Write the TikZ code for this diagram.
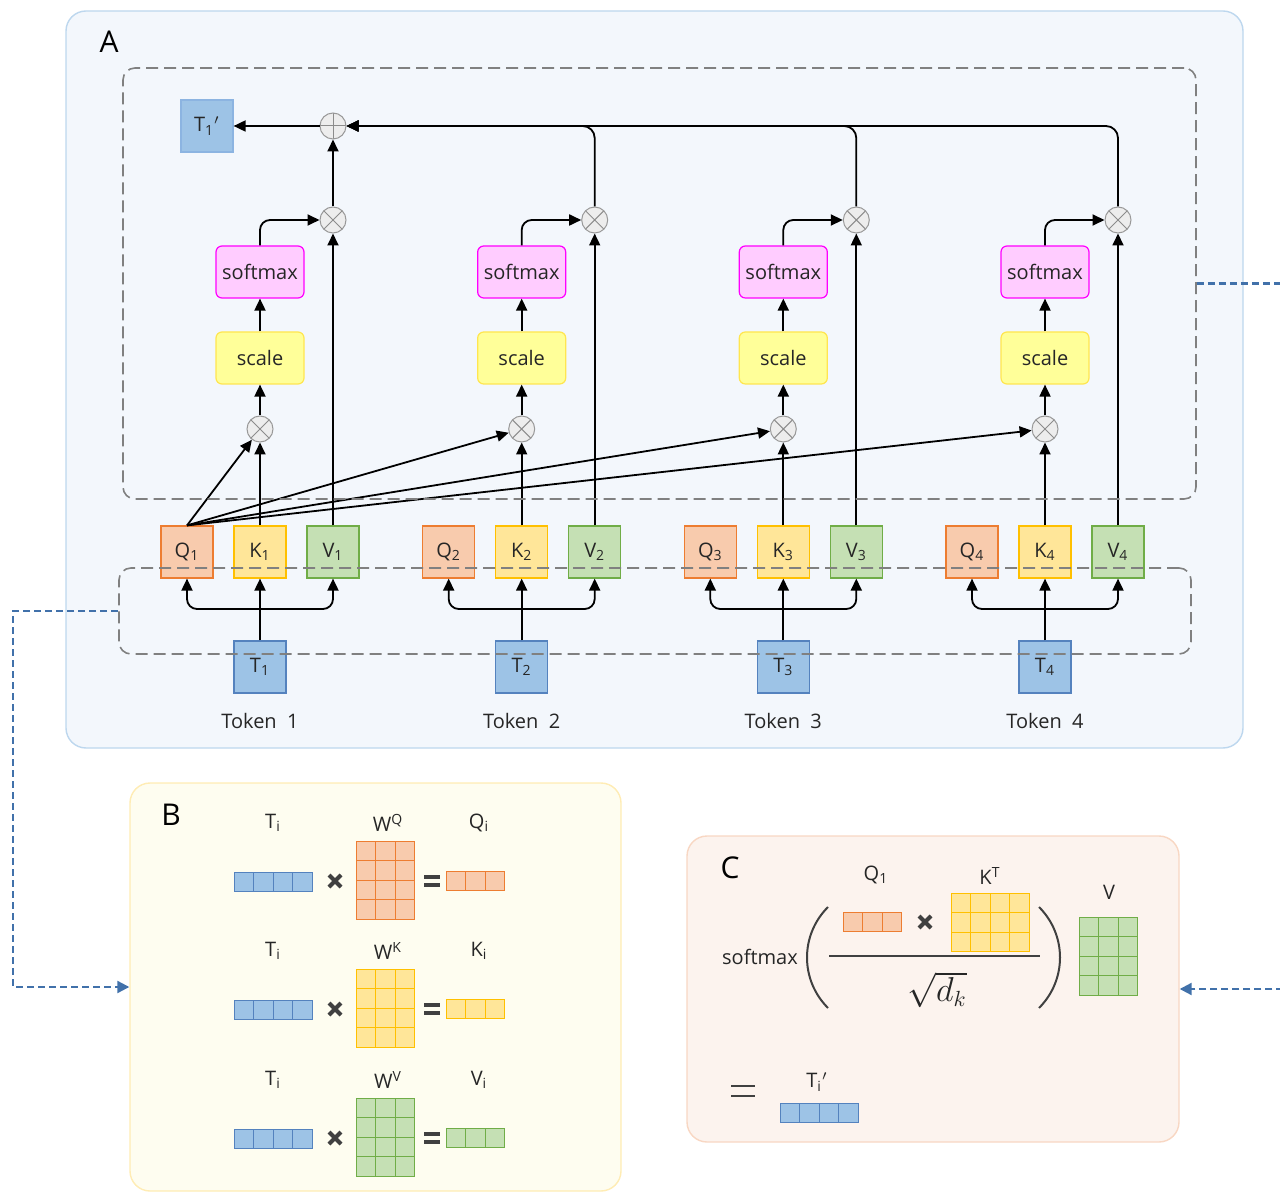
\documentclass[tikz,border=0pt]{standalone}
\usepackage{fontspec}
\setmainfont{Open Sans}
\usetikzlibrary{arrows.meta}

\definecolor{qline}{RGB}{237,125,49}
\definecolor{qfill}{RGB}{248,203,173}
\definecolor{kline}{RGB}{255,192,0}
\definecolor{kfill}{RGB}{255,230,153}
\definecolor{vline}{RGB}{112,173,71}
\definecolor{vfill}{RGB}{197,224,180}
\definecolor{tline}{RGB}{84,130,190}
\definecolor{tfill}{RGB}{157,195,230}
\definecolor{linkblue}{RGB}{65,113,170}

% grid of cells: x, y (top left), columns, rows, style
\newcommand{\cellgrid}[5]{%
  \foreach \cc in {1,...,#3}{\foreach \rr in {1,...,#4}{
    \draw[#5] ({#1+(\cc-1)*19.5},{#2+(\rr-1)*19.5}) rectangle ++(19.5,19.5);}}}

\begin{document}
\begin{tikzpicture}
  [x=0.5pt,y=-0.5pt,font=\fontsize{10}{12}\selectfont,text=black!85,
   box/.style={draw,minimum size=26pt,inner sep=0pt,line width=0.6pt},
   qbox/.style={box,draw=qline,fill=qfill},
   kbox/.style={box,draw=kline,fill=kfill},
   vbox/.style={box,draw=vline,fill=vfill},
   tbox/.style={box,draw=tline,fill=tfill},
   scalebox/.style={box,rounded corners=3pt,minimum width=44pt,draw={rgb,255:red,255;green,230;blue,80},fill={rgb,255:red,255;green,255;blue,153}},
   softbox/.style={box,rounded corners=3pt,minimum width=44pt,draw={rgb,255:red,255;green,0;blue,255},fill={rgb,255:red,255;green,204;blue,255}},
   opnode/.style={circle,draw=black!40,fill=black!7,line width=0.5pt,minimum size=13pt,inner sep=0pt},
   mulnode/.style={opnode,path picture={\draw[black!45,line width=0.5pt]
     (path picture bounding box.north west) -- (path picture bounding box.south east)
     (path picture bounding box.north east) -- (path picture bounding box.south west);}},
   addnode/.style={opnode,path picture={\draw[black!45,line width=0.5pt]
     (path picture bounding box.north) -- (path picture bounding box.south)
     (path picture bounding box.east) -- (path picture bounding box.west);}},
   arr/.style={-{Triangle[length=6pt,width=5.5pt]},line width=0.9pt,black},
   frame/.style={draw=black!50,dash pattern=on 6pt off 3pt,line width=0.8pt,rounded corners=6pt,inner sep=0pt},
   link/.style={draw=linkblue,dash pattern=on 3.5pt off 2pt,line width=1.1pt,-{Triangle[length=6pt,width=6pt]}},
   panel/.style={rounded corners=10pt,line width=0.7pt,inner sep=0pt},
   panellbl/.style={font=\fontsize{15}{18}\selectfont,text=black},
   qcell/.style={draw=qline,fill=qfill,line width=0.5pt},
   kcell/.style={draw=kline,fill=kfill,line width=0.5pt},
   vcell/.style={draw=vline,fill=vfill,line width=0.5pt},
   tcell/.style={draw=tline,fill=tfill,line width=0.5pt},
   crosssign/.pic={\draw[line width=2pt,black!75] (-6,-6) -- (6,6) (-6,6) -- (6,-6);},
   equalsign/.pic={\draw[line width=1.6pt,black!75] (-8,-4) -- (8,-4) (-8,4) -- (8,4);}]
  \useasboundingbox (0,0) rectangle (1280,1192);

  % panels
  \node[panel,draw={rgb,255:red,189;green,215;blue,238},fill={rgb,255:red,243;green,247;blue,252},
    minimum width=588.5pt,minimum height=368.5pt] (panA) at (654.5,379.5) {};
  \node[panel,draw={rgb,255:red,255;green,236;blue,180},fill={rgb,255:red,254;green,253;blue,240},
    minimum width=245.5pt,minimum height=204pt] (panB) at (375.5,987) {};
  \node[panel,draw={rgb,255:red,248;green,215;blue,195},fill={rgb,255:red,252;green,243;blue,238},
    minimum width=246pt,minimum height=153pt] (panC) at (933,989) {};
  \node[panellbl] (labA) at (109,42) {A};
  \node[panellbl] (labB) at (171,815) {B};
  \node[panellbl] (labC) at (730,868) {C};

  % tokens and attention
  \foreach \i/\x in {1/260,2/521.7,3/783.3,4/1045}{
    \node[tbox] (T\i) at (\x,667) {T\textsubscript{\i}};
    \node (tok\i) at (\x,721) {Token\ \ \i};
    \node[qbox] (Q\i) at (\x-73,552) {Q\textsubscript{\i}};
    \node[kbox] (K\i) at (\x,552) {K\textsubscript{\i}};
    \node[vbox] (V\i) at (\x+73,552) {V\textsubscript{\i}};
    \node[mulnode] (ml\i) at (\x,429) {};
    \node[scalebox] (sc\i) at (\x,358) {scale};
    \node[softbox] (sm\i) at (\x,272) {softmax};
    \node[mulnode] (mu\i) at (\x+73,220) {};
    \coordinate (br\i) at (\x,609);

    \draw[arr] (T\i.north) -- (K\i.south);
    \draw[arr,rounded corners=5pt] (br\i) -| (Q\i.south);
    \draw[arr,rounded corners=5pt] (br\i) -| (V\i.south);
    \draw[arr] (K\i.north) -- (ml\i);
    \draw[arr] (ml\i) -- (sc\i);
    \draw[arr] (sc\i) -- (sm\i);
    \draw[arr,rounded corners=5pt] (sm\i.north) |- (mu\i.west);
    \draw[arr] (V\i.north) -- (mu\i);
  }
  \foreach \i in {1,...,4}
    \draw[arr] (Q1.north) -- (ml\i);

  \node[addnode] (plus) at (333,126) {};
  \node[box,draw={rgb,255:red,140;green,180;blue,225},fill=tfill] (Tout) at (207,126) {T\textsubscript{1}\textsuperscript{$\prime$}};
  \draw[arr] (mu1) -- (plus);
  \foreach \i in {2,3,4}
    \draw[arr,rounded corners=6pt] (mu\i.north) |- (plus.east);
  \draw[arr] (plus) -- (Tout);

  % dashed frames
  \node[frame,minimum width=536.5pt,minimum height=215.5pt] (attn) at (659.5,283.5) {};
  \node[frame,minimum width=536pt,minimum height=43pt] (proj) at (655,611) {};

  % links to B and C
  \draw[link] (proj.west) -- ++(-105,0) |- (panB.west);
  \draw[link] (attn.east) -- ++(92,0) |- (panC.east);

  % panel B
  \foreach \b/\lab/\sty in {841/Q/qcell,969/K/kcell,1098/V/vcell}{
    \node (ti\lab) at (273,\b-18) {T\textsubscript{i}};
    \node (wl\lab) at (388,\b-18) {W\textsuperscript{\lab}};
    \node (ol\lab) at (479,\b-18) {\lab\textsubscript{i}};
    \cellgrid{234}{\b+31}{4}{1}{tcell}
    \cellgrid{356}{\b}{3}{4}{\sty}
    \cellgrid{446}{\b+30}{3}{1}{\sty}
    \pic at (335,\b+40) {crosssign};
    \pic at (432,\b+40) {equalsign};
  }

  % panel C
  \node (cq) at (876,875) {Q\textsubscript{1}};
  \cellgrid{843}{912}{3}{1}{qcell}
  \pic at (925,922) {crosssign};
  \node (ckt) at (990,876) {K\textsuperscript{T}};
  \cellgrid{951}{893}{4}{3}{kcell}
  \draw[line width=1pt,black!75] (829,956) -- (1040,956);
  \node (csq) at (937,990) {\fontsize{16}{18}\selectfont$\sqrt{d_k}$};
  \draw[line width=1pt,black!75] (828,907) .. controls (800,935) and (800,980) .. (828,1008);
  \draw[line width=1pt,black!75] (1039,907) .. controls (1067,935) and (1067,980) .. (1039,1008);
  \node (csm) at (760,957) {softmax};
  \node (cv) at (1109,892) {V};
  \cellgrid{1079}{917}{3}{4}{vcell}
  \draw[line width=1pt,black!75] (731,1086) -- (755,1086) (731,1096) -- (755,1096);
  \node (cto) at (817,1082) {T\textsubscript{i}\textsuperscript{$\prime$}};
  \cellgrid{780}{1103}{4}{1}{tcell}
\end{tikzpicture}
\end{document}
